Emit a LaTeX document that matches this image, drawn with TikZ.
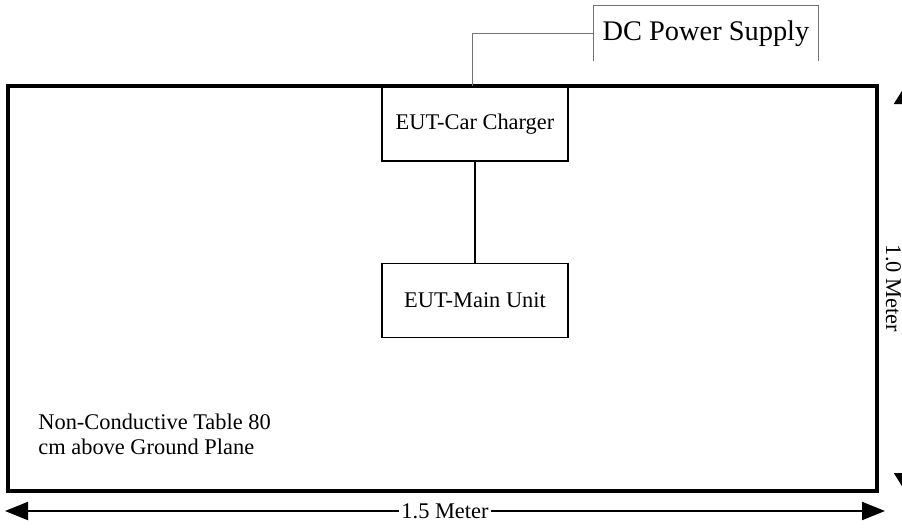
\documentclass[tikz,border=0pt]{standalone}
\usepackage{fontspec}
\setmainfont{Liberation Serif}
\usetikzlibrary{arrows.meta,
	positioning
}
\tikzset{Setup/.style = {
		x=0.5pt, y=-0.5pt,
		every node/.style = {font=\fontsize{11.2}{12.5}\selectfont, inner sep=0pt},
		tablebox/.style = {draw, line width=1.75pt, minimum width=434.5pt, minimum height=202.5pt},
		unitbox/.style = {draw, line width=0.6pt, minimum width=93pt, minimum height=37pt},
		supplybox/.style = {font=\fontsize{14.2}{16}\selectfont, minimum width=112pt, minimum height=27.5pt},
		wire/.style = {line width=0.6pt},
		supplywire/.style = {draw=black!55, line width=0.5pt},
		dimension/.style = {line width=1pt,
			{Triangle[length=11.5pt,width=9pt]}-{Triangle[length=11.5pt,width=9pt]}},
		vdimension/.style = {line width=1pt,
			{Triangle[length=9pt,width=11pt]}-{Triangle[length=9pt,width=11pt]}},
		dimlabel/.style = {fill=white, inner xsep=1pt, inner ysep=1pt},
	}% end of Setup style
}

\begin{document}
\begin{tikzpicture}[Setup]
 \useasboundingbox (0,0) rectangle (902,527);

 \node[tablebox] (table) at (442.5,288.5) {};
 \node[anchor=north west, align=left] (tabletext) at (38,414) {Non-Conductive Table 80\\cm above Ground Plane};

 \node[unitbox] (charger) at (475,124) {EUT-Car Charger};
 \node[unitbox] (main) at (475,300.5) {EUT-Main Unit};
 \draw[wire] (charger) -- (main);

 \node[supplybox] (supply) at (706,33.5) {DC Power Supply};
 \draw[supplywire] (supply.south west) -- (supply.north west) -- (supply.north east) -- (supply.south east);
 \draw[supplywire] (supply.west) -| ([xshift=-1.5pt]charger.north);

 % dimensions
 \coordinate (hleft) at (5,511);
 \coordinate (hright) at (885,511);
 \draw[dimension] (hleft) -- node[dimlabel] (hlabel) {1.5 Meter} (hright);

 \coordinate (vtop) at (905,86);
 \coordinate (vbottom) at (905,491);
 \draw[vdimension] (vtop) -- (vbottom);
 \node[dimlabel, rotate=-90] (vlabel) at (893.5,288.5) {1.0 Meter};
\end{tikzpicture}
\end{document}
